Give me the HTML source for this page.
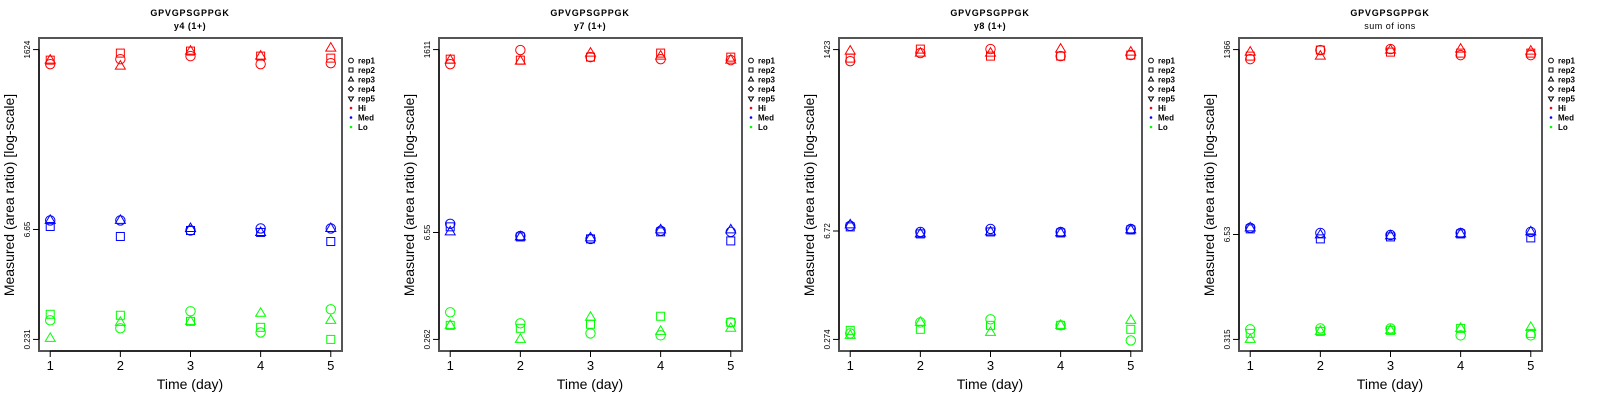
<!DOCTYPE html>
<html><head><meta charset="utf-8"><style>
html,body{margin:0;padding:0;background:#fff;}
svg{display:block;font-family:"Liberation Sans",sans-serif;}
</style></head><body>
<svg id="chart" width="1600" height="400" viewBox="0 0 1600 400" xmlns="http://www.w3.org/2000/svg"></svg>
<script>
const days = [1, 2, 3, 4, 5];
const panelTitles = ["y4 (1+)", "y7 (1+)", "y8 (1+)", "sum of ions"];
const yTicks = [[0.231, 6.65, 1624], [0.262, 6.55, 1611], [0.274, 6.72, 1423], [0.315, 6.53, 1366]];
const reps = ["rep1", "rep2", "rep3"];
// values per panel: [day][rep]
const hi1 = [[1041,1176,1176],[1213,1459,979],[1330,1551,1551],[1041,1330,1330],[1073,1251,1700]];
const med1 = [[8.77,7.29,8.77],[8.77,5.37,8.77],[6.45,6.45,6.86],[6.86,6.07,6.07],[6.86,4.60,6.86]];
const lo1 = [[0.414,0.498,0.238],[0.324,0.483,0.389],[0.546,0.401,0.401],[0.286,0.334,0.513],[0.580,0.231,0.414]];
const hi2 = [[1039,1208,1173],[1587,1173,1138],[1284,1284,1450],[1208,1450,1323],[1173,1284,1173]];
const med2 = [[8.50,7.76,6.67],[5.91,5.73,5.73],[5.40,5.40,5.56],[6.88,6.67,7.09],[6.67,5.08,7.09]];
const lo2 = [[0.593,0.400,0.400],[0.425,0.366,0.262],[0.314,0.413,0.510],[0.296,0.526,0.334],[0.438,0.438,0.366]];
const hi3 = [[1012,1106,1361],[1283,1444,1283],[1444,1174,1283],[1174,1174,1444],[1210,1210,1322]];
const med3 = [[7.82,7.59,8.05],[6.54,6.17,6.17],[7.15,6.54,6.54],[6.54,6.35,6.35],[7.15,6.94,6.94]];
const lo3 = [[0.327,0.358,0.309],[0.453,0.369,0.453],[0.496,0.415,0.337],[0.415,0.415,0.415],[0.266,0.369,0.481]];
const hi4 = [[1037,1131,1270],[1347,1347,1131],[1386,1270,1347],[1164,1234,1386],[1164,1234,1307]];
const med4 = [[7.91,7.68,7.91],[6.84,5.75,6.45],[6.45,6.09,6.27],[6.84,6.64,6.64],[7.04,5.92,7.04]];
const lo4 = [[0.421,0.375,0.315],[0.433,0.397,0.397],[0.433,0.409,0.409],[0.354,0.433,0.433],[0.354,0.375,0.446]];
const panelData = [[hi1,med1,lo1],[hi2,med2,lo2],[hi3,med3,lo3],[hi4,med4,lo4]];
const levelNames = ["Hi", "Med", "Lo"];
const levelColors = ["#ff0000", "#0000ff", "#00ff00"];

const NS = "http://www.w3.org/2000/svg";
const svg = document.getElementById("chart");
function mk(tag, attrs, parent) {
  const e = document.createElementNS(NS, tag);
  for (const k in attrs) e.setAttribute(k, attrs[k]);
  (parent || svg).appendChild(e);
  return e;
}
function drawSymbol(g, type, x, y, color, s) {
  let e;
  if (type === 0) e = mk("circle", {cx: x, cy: y, r: 4.7*s, fill: "none", stroke: color, "stroke-width": 1}, g);
  else if (type === 1) e = mk("rect", {x: x-4*s, y: y-4*s, width: 8*s, height: 8*s, fill: "none", stroke: color, "stroke-width": 1}, g);
  else if (type === 2) e = mk("polygon", {points: `${x},${y-5.5*s} ${x+5*s},${y+3*s} ${x-5*s},${y+3*s}`, fill: "none", stroke: color, "stroke-width": 1}, g);
  else if (type === 3) e = mk("polygon", {points: `${x},${y-5*s} ${x+5*s},${y} ${x},${y+5*s} ${x-5*s},${y}`, fill: "none", stroke: color, "stroke-width": 1}, g);
  else e = mk("polygon", {points: `${x},${y+5.5*s} ${x+5*s},${y-3*s} ${x-5*s},${y-3*s}`, fill: "none", stroke: color, "stroke-width": 1}, g);
  return e;
}

const L = 39, R = 342, T = 38, B = 351;
panelData.forEach((pd, p) => {
  const ox = p * 400;
  const g = mk("g", {transform: `translate(${ox},0)`});
  
  
  const ticks = yTicks[p];
  const lmin = Math.log10(ticks[0]), lmax = Math.log10(ticks[2]);
  const pad = (lmax - lmin) * 0.04;
  const yS = v => B - (Math.log10(v) - (lmin - pad)) / ((lmax + pad) - (lmin - pad)) * (B - T);
  const xpad = (days[days.length-1] - days[0]) * 0.04;
  const xS = d => L + (d - (days[0] - xpad)) / ((days[days.length-1] + xpad) - (days[0] - xpad)) * (R - L);

  const t1 = mk("text", {x: 190, y: 16, "text-anchor": "middle", "font-size": 9, "font-weight": "bold", "letter-spacing": "0.8"}, g);
  t1.textContent = "GPVGPSGPPGK";
  
  
  const t2 = mk("text", {x: 190, y: 29, "text-anchor": "middle", "font-size": 9, "font-weight": p===3 ? "normal" : "bold", "letter-spacing": "0.5"}, g);
  t2.textContent = panelTitles[p];
  
  

  const box = mk("rect", {x: L, y: T, width: R-L, height: B-T, fill: "none", stroke: "#555", "stroke-width": 2}, g);
  
  

  // x axis
  const xa = mk("line", {x1: xS(days[0]), x2: xS(days[days.length-1]), y1: B, y2: B, stroke: "#000", "stroke-width": 1}, g);
  
  
  days.forEach(d => {
    mk("line", {x1: xS(d), x2: xS(d), y1: B, y2: B+6, stroke: "#000"}, g);
    const tl = mk("text", {x: xS(d), y: 370, "text-anchor": "middle", "font-size": 13}, g);
    tl.textContent = d;
    
    
  });
  const xt = mk("text", {x: 190, y: 389, "text-anchor": "middle", "font-size": 14}, g);
  xt.textContent = "Time (day)";
  
  

  // y axis
  const ya = mk("line", {x1: L, x2: L, y1: yS(ticks[0]), y2: yS(ticks[2]), stroke: "#000"}, g);
  
  
  ticks.forEach(v => {
    const y = yS(v);
    mk("line", {x1: L-6, x2: L, y1: y, y2: y, stroke: "#000"}, g);
    const tl = mk("text", {x: 0, y: 0, "text-anchor": "middle", "font-size": 8, transform: `translate(30,${y}) rotate(-90)`}, g);
    tl.textContent = v;
    
    
  });
  const yt = mk("text", {x: 0, y: 0, "text-anchor": "middle", "font-size": 14, transform: `translate(14,195) rotate(-90)`}, g);
  yt.textContent = "Measured (area ratio) [log-scale]";
  
  

  // points
  pd.forEach((series, li) => {
    series.forEach((vals, di) => {
      vals.forEach((v, ri) => {
        const m = drawSymbol(g, ri, xS(days[di]), yS(v), levelColors[li], 1);
        
        
      });
    });
  });

  // legend
  const lg = mk("g", {}, g);
  
  
  const entries = ["rep1","rep2","rep3","rep4","rep5","Hi","Med","Lo"];
  entries.forEach((name, i) => {
    const y = 60.5 + i * 9.5;
    let sym;
    if (i < 5) sym = drawSymbol(lg, i, 351, y, "#000", 0.5);
    else sym = mk("circle", {cx: 351, cy: y, r: 1.3, fill: levelColors[i-5]}, lg);
    
    
    const tx = mk("text", {x: 358, y: y + 3, "font-size": 8, "font-weight": "bold"}, lg);
    tx.textContent = name;
    
    
  });
});
</script>
</body></html>
